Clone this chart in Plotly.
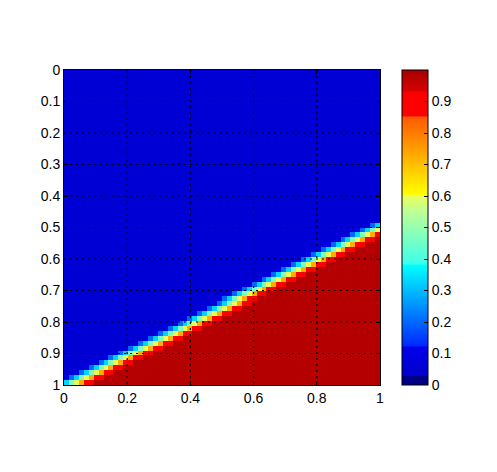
import plotly.graph_objects as go

# grid size (cells per side)
n_cells = 64

# values along one row, read left to right across the blue -> red edge
ramp = [0.1, 0.2, 0.33, 0.47, 0.6, 0.73, 0.86, 0.93]
low_val = 0.05
high_val = 0.98

# column where the ramp begins on each row (top row first); None = row is all blue
row_start = [None] * 30 + [
    63, 61, 59, 57, 55, 53, 51, 49, 47, 45, 43, 41, 39, 37, 35, 33, 31,
    30, 28, 26, 24, 22, 20, 18, 16, 14, 12, 10, 8, 6, 4, 2, 0, -2,
]

x_ticks = [0, 0.2, 0.4, 0.6, 0.8, 1]
y_ticks = [0, 0.1, 0.2, 0.3, 0.4, 0.5, 0.6, 0.7, 0.8, 0.9, 1]
cbar_ticks = [0, 0.1, 0.2, 0.3, 0.4, 0.5, 0.6, 0.7, 0.8, 0.9]

z = []
for start in row_start:
    row = []
    for j in range(n_cells):
        if start is None or j < start:
            row.append(low_val)
        elif j - start < len(ramp):
            row.append(ramp[j - start])
        else:
            row.append(high_val)
    z.append(row)

centers = [(k + 0.5) / n_cells for k in range(n_cells)]

# jet-like map with the banding seen on the reference colorbar
jet_scale = [
    [0.0, "rgb(0,0,135)"], [0.03, "rgb(0,0,135)"],
    [0.03, "rgb(0,0,205)"], [0.12, "rgb(0,0,235)"],
    [0.125, "rgb(0,40,255)"], [0.38, "rgb(0,255,255)"],
    [0.385, "rgb(60,255,235)"], [0.55, "rgb(190,255,150)"],
    [0.6, "rgb(235,255,90)"], [0.605, "rgb(255,255,0)"],
    [0.85, "rgb(255,90,0)"], [0.855, "rgb(255,0,0)"],
    [0.93, "rgb(250,0,0)"], [0.935, "rgb(215,0,0)"],
    [1.0, "rgb(165,0,0)"],
]

fig = go.Figure(
    go.Heatmap(
        x=centers,
        y=centers,
        z=z,
        zmin=0,
        zmax=1,
        colorscale=jet_scale,
        colorbar=dict(
            x=1.0696,
            xanchor="left",
            xpad=0,
            y=0.5,
            len=1,
            ypad=0,
            thickness=26,
            outlinewidth=1,
            outlinecolor="black",
            tickvals=cbar_ticks,
            ticktext=[str(t) for t in cbar_ticks],
            ticks="inside",
            ticklen=4,
            tickcolor="black",
            tickfont=dict(size=14, color="black"),
        ),
    )
)

# dotted grid drawn on top of the image
for gx in x_ticks[1:-1]:
    fig.add_shape(type="line", xref="x", yref="y", x0=gx, x1=gx, y0=0, y1=1,
                  line=dict(color="black", width=1.2, dash="2px,4px"), layer="above")
for gy in y_ticks[1:-1]:
    fig.add_shape(type="line", xref="x", yref="y", x0=0, x1=1, y0=gy, y1=gy,
                  line=dict(color="black", width=1.2, dash="2px,4px"), layer="above")

axis_style = dict(
    showgrid=False,
    zeroline=False,
    showline=True,
    linecolor="black",
    linewidth=1,
    mirror="ticks",
    ticks="inside",
    ticklen=4,
    tickcolor="black",
    tickfont=dict(size=14, color="black"),
    layer="above traces",
)

fig.update_xaxes(range=[0, 1], tickvals=x_ticks, **axis_style)
fig.update_yaxes(range=[1, 0], tickvals=y_ticks, **axis_style)

# page body adds 8px, so margins are 8px smaller than the target offsets
fig.update_layout(
    width=497,
    height=472,
    margin=dict(l=56, r=125, t=62, b=95),
    paper_bgcolor="white",
    plot_bgcolor="white",
    font=dict(family="Liberation Sans, Arial, sans-serif", size=14, color="black"),
)

fig.write_html("out.html")
